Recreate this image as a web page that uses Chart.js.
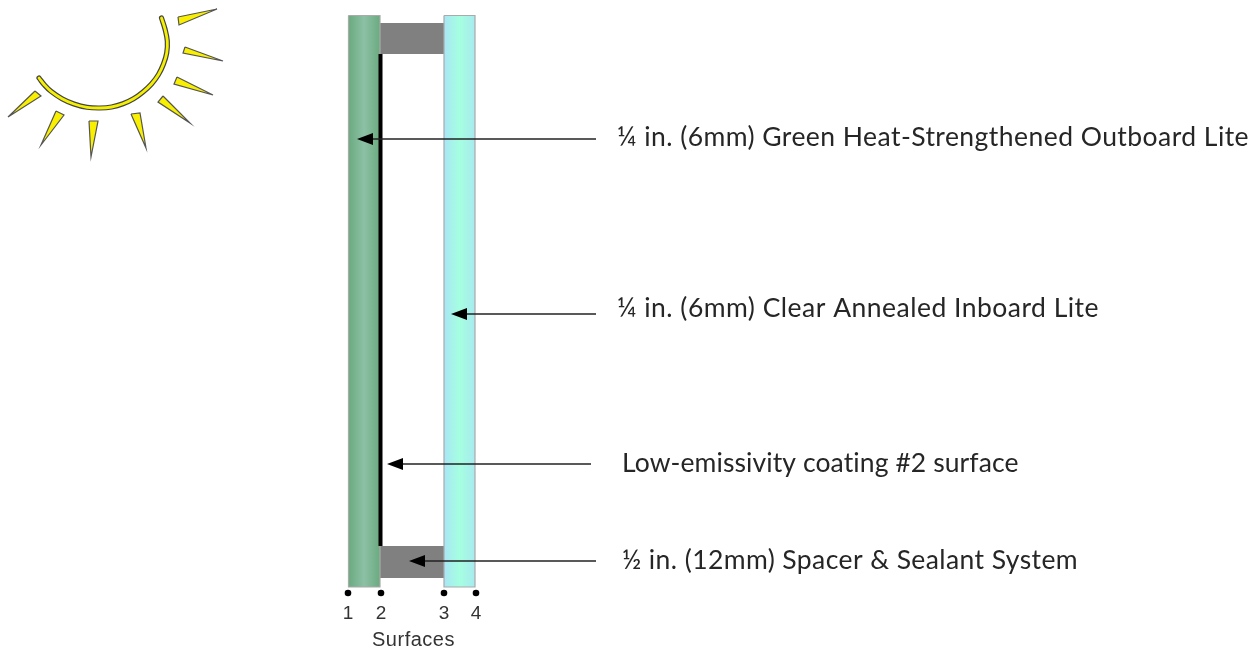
<!DOCTYPE html>
<html><head><meta charset="utf-8">
<style>html,body{margin:0;padding:0;background:#fff;overflow:hidden}canvas{display:block}</style>
<script src="https://cdn.jsdelivr.net/npm/chart.js@4"></script>
</head><body><canvas id="c" width="1255" height="649"></canvas>
<script>
const sunArc=[[161.5,18],[165,29],[167.3,41],[166.7,53],[163.5,64],[158.5,74.5],[151.5,84],[143,92],[133.5,98.8],[123,103.8],[111.6,107],[100,108],[87,107.3],[74,104],[62,98.7],[51,91.3],[44.5,85],[39,78]];
const sunRays=[
 [[178,17],[217,9],[179,25]],
 [[185,47],[223,61],[183,53]],
 [[177,77],[213,95],[174,84]],
 [[163,96],[190,123],[158,102]],
 [[131,114],[146,148],[140,113]],
 [[89,121],[91,157],[98,121]],
 [[56,111],[41,145],[64,115]],
 [[35,91],[8,117],[41,96]]
];
const outboardLite=[348.5,15.5,380,587];
const inboardLite=[444,15.5,475,587];
const spacerTop=[380,23,444,54];
const spacerBottom=[380,546,444,578];
const coating=[378.5,54,382.5,546];
const outboardStops=['#6aab7f','#8dc0a6','#6aab7e'];
const inboardStops=['#a8e6f6','#a5ffe0','#a8eaf0'];
const surfaceX=[348,381,444,476];
const surfaceY=593;
const surfaceNames=['1','2','3','4'];
const surfaceNameY=614;
const axisTitle='Surfaces';
const axisTitlePos=[413.5,640];
const axisTitleWidth=83;
const arrowRows=[139,314,464,561];
const arrowTails=[596,596,591,596];
const arrowTips=[357,451,387,409];
const calloutText=[
 '¼ in. (6mm) Green Heat-Strengthened Outboard Lite',
 '¼ in. (6mm) Clear Annealed Inboard Lite',
 'Low-emissivity coating #2 surface',
 '½ in. (12mm) Spacer & Sealant System'
];
const calloutX=[617,617,622,622];
const calloutY=[137,308,463,560];
const calloutWidth=[632,482,397,456];

const pts=a=>a.map(p=>({x:p[0],y:p[1]}));
const rect=r=>[{x:r[0],y:r[1]},{x:r[2],y:r[1]},{x:r[2],y:r[3]},{x:r[0],y:r[3]},{x:r[0],y:r[1]}];
const base={showLine:true,pointRadius:0,tension:0,borderWidth:0,fill:false};
const grad=(r,stops)=>c=>{
  const s=c.chart.scales.x; if(!s) return stops[1];
  const a=s.getPixelForValue(r[0]),b=s.getPixelForValue(r[2]);
  if(!isFinite(a)||!isFinite(b)) return stops[1];
  const g=c.chart.ctx.createLinearGradient(a,0,b,0);
  stops.forEach((k,i)=>g.addColorStop(i/(stops.length-1),k)); return g;
};
const layers=[];
const shape=(data,fillC,line,w)=>layers.push({...base,data,fill:'shape',backgroundColor:fillC,borderColor:line||'transparent',borderWidth:w||0});
layers.push({...base,data:pts(sunArc),tension:.4,borderColor:'#444',borderWidth:5.2,borderCapStyle:'round',borderJoinStyle:'round'});
layers.push({...base,data:pts(sunArc),tension:.4,borderColor:'#f5f000',borderWidth:2.8,borderCapStyle:'round',borderJoinStyle:'round'});
sunRays.forEach(t=>shape(pts([...t,t[0]]),'#f8f000','#555',1.2));
shape(rect(spacerTop),'#808080');
shape(rect(spacerBottom),'#808080');
shape(rect(outboardLite),grad(outboardLite,outboardStops),'#aaaaaa',1.2);
shape(rect(inboardLite),grad(inboardLite,inboardStops),'#aaaaaa',1.2);
shape(rect(coating),'#000');
layers.push({...base,showLine:false,data:surfaceX.map(x=>({x,y:surfaceY})),pointRadius:3.3,pointBackgroundColor:'#000',pointBorderWidth:0});
arrowRows.forEach((y,i)=>{
  const t=arrowTips[i];
  layers.push({...base,data:[{x:arrowTails[i],y},{x:t+8,y}],borderColor:'#222',borderWidth:1.5});
  shape([{x:t,y},{x:t+16,y:y-6},{x:t+16,y:y+6},{x:t,y}],'#000');
});
const fit=(ctx,t,target)=>{
  ctx.letterSpacing='0px';
  const w=ctx.measureText(t).width;
  ctx.letterSpacing=((target-w)/t.length).toFixed(3)+'px';
};
const textPlugin={id:'texts',afterDatasetsDraw(ch){
  const {ctx,scales:{x,y}}=ch; ctx.save();
  ctx.fillStyle='#262626'; ctx.textBaseline='middle'; ctx.textAlign='left';
  ctx.font='26.5px Lato';
  calloutText.forEach((t,i)=>{
    fit(ctx,t,calloutWidth[i]);
    ctx.fillText(t,x.getPixelForValue(calloutX[i]),y.getPixelForValue(calloutY[i]));
  });
  ctx.letterSpacing='0px';
  ctx.fillStyle='#333'; ctx.textAlign='center'; ctx.font='19px "Liberation Sans"';
  surfaceNames.forEach((t,i)=>ctx.fillText(t,x.getPixelForValue(surfaceX[i]),y.getPixelForValue(surfaceNameY)));
  ctx.font='20px "Liberation Sans"';
  fit(ctx,axisTitle,axisTitleWidth);
  ctx.fillText(axisTitle,x.getPixelForValue(axisTitlePos[0]),y.getPixelForValue(axisTitlePos[1]));
  ctx.restore();
}};
new Chart(document.getElementById('c'),{
  type:'scatter',
  data:{datasets:layers.slice().reverse()},
  options:{responsive:false,animation:false,events:[],layout:{padding:0,autoPadding:false},
    plugins:{legend:{display:false},tooltip:{enabled:false},title:{display:false}},
    scales:{x:{type:'linear',min:0,max:1255,display:false},y:{type:'linear',min:0,max:649,reverse:true,display:false}}},
  plugins:[textPlugin]
});
</script></body></html>
